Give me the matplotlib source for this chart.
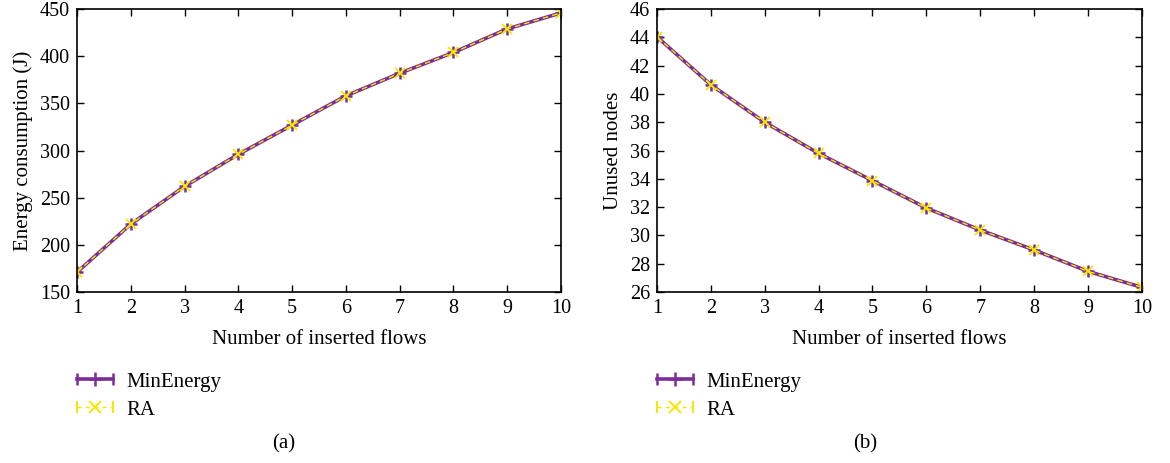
import matplotlib.pyplot as plt
from matplotlib.lines import Line2D
from matplotlib.legend_handler import HandlerLine2D

plt.rcParams["font.family"] = ["Liberation Serif", "DejaVu Serif"]
plt.rcParams["font.size"] = 15

# data
flows = [1, 2, 3, 4, 5, 6, 7, 8, 9, 10]
energy_min = [171, 222, 262, 296, 327, 358, 382, 404, 429, 446]
energy_ra = [171, 222, 262, 296, 327, 358, 382, 404, 429, 446]
unused_min = [44.04, 40.65, 38.0, 35.8, 33.87, 31.94, 30.38, 28.97, 27.46, 26.33]
unused_ra = [44.04, 40.65, 38.0, 35.8, 33.87, 31.94, 30.38, 28.97, 27.46, 26.33]

purple = "#7B2D9A"
yellow = "#F5E800"

fig = plt.figure(figsize=(11.7, 4.63), dpi=100)
ax_a = fig.add_axes([0.0658, 0.3693, 0.4137, 0.611])
ax_b = fig.add_axes([0.5615, 0.3693, 0.4145, 0.611])


def draw(ax, ymin, yrad, ylim, yticks, ylabel):
    ax.plot(flows, ymin, color=purple, lw=2.6, marker="+", ms=8, mew=1.8)
    ax.plot(flows, yrad, color=yellow, lw=1.0, ls=(0, (4, 3)), marker="x", ms=7, mew=1.4)
    ax.set_xlim(1, 10)
    ax.set_ylim(*ylim)
    ax.set_xticks(flows)
    ax.set_yticks(yticks)
    ax.tick_params(direction="in", top=True, right=True, length=5, width=1, labelsize=14.5, pad=5)
    for s in ax.spines.values():
        s.set_linewidth(1.2)
    ax.set_xlabel("Number of inserted flows", fontsize=15, labelpad=9)
    ax.set_ylabel(ylabel, fontsize=15, labelpad=5)

    caps_min = Line2D([], [], color=purple, lw=2.6, marker="|", ms=9, mew=1.8)
    mid_min = Line2D([], [], color=purple, lw=0, marker="+", ms=10, mew=1.8)
    caps_ra = Line2D([], [], color=yellow, lw=1.0, ls=(0, (3, 3)), marker="|", ms=9, mew=1.4)
    mid_ra = Line2D([], [], color=yellow, lw=0, marker="x", ms=8, mew=1.4)
    ax.legend(
        [(caps_min, mid_min), (caps_ra, mid_ra)],
        ["MinEnergy", "RA"],
        handler_map={
            caps_min: HandlerLine2D(numpoints=2, marker_pad=0),
            mid_min: HandlerLine2D(numpoints=1),
            caps_ra: HandlerLine2D(numpoints=2, marker_pad=0),
            mid_ra: HandlerLine2D(numpoints=1),
        },
        loc="upper left",
        bbox_to_anchor=(0.0, -0.283),
        borderaxespad=0,
        borderpad=0,
        frameon=False,
        fontsize=15,
        handlelength=1.75,
        labelspacing=0.4,
        handletextpad=0.6,
    )


draw(ax_a, energy_min, energy_ra, (150, 450), range(150, 451, 50), "Energy consumption (J)")
draw(ax_b, unused_min, unused_ra, (26, 46), range(26, 47, 2), "Unused nodes")

fig.text(0.2427, 0.041, "(a)", ha="center", va="center", fontsize=15)
fig.text(0.7393, 0.041, "(b)", ha="center", va="center", fontsize=15)

fig.savefig("out.png", dpi=100)
